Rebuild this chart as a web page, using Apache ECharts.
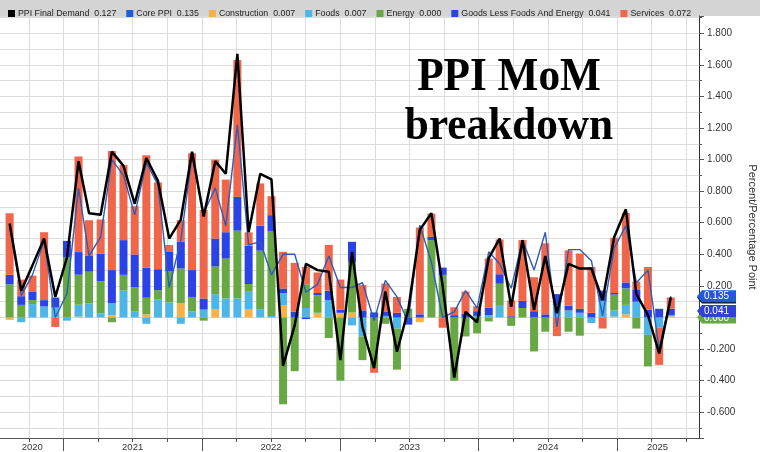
<!DOCTYPE html>
<html><head><meta charset="utf-8">
<script src="https://cdn.jsdelivr.net/npm/echarts@6/dist/echarts.min.js"></script>
<style>html,body{margin:0;padding:0;background:#fff}#c{width:760px;height:452px}</style>
</head><body><div id="c"></div>
<script>
// ---- data (month-end observations) ----
const months = [
 '2020-07','2020-08','2020-09','2020-10','2020-11','2020-12',
 '2021-01','2021-02','2021-03','2021-04','2021-05','2021-06','2021-07','2021-08','2021-09','2021-10','2021-11','2021-12',
 '2022-01','2022-02','2022-03','2022-04','2022-05','2022-06','2022-07','2022-08','2022-09','2022-10','2022-11','2022-12',
 '2023-01','2023-02','2023-03','2023-04','2023-05','2023-06','2023-07','2023-08','2023-09','2023-10','2023-11','2023-12',
 '2024-01','2024-02','2024-03','2024-04','2024-05','2024-06','2024-07','2024-08','2024-09','2024-10','2024-11','2024-12',
 '2025-01','2025-02','2025-03','2025-04','2025-05'
];
const ppiFinalDemand = [
 0.595,0.17,0.33,0.50,0.13,0.38,
 0.99,0.66,0.65,1.05,0.96,0.72,1.01,0.865,0.50,0.62,1.05,0.64,
 0.99,0.91,1.67,0.54,0.91,0.875,-0.306,-0.05,0.34,0.30,0.29,-0.27,
 0.415,-0.06,-0.32,0.165,-0.217,0.047,0.555,0.66,0.20,-0.38,0.036,-0.03,
 0.376,0.50,0.068,0.49,0.047,0.39,0.027,0.34,0.31,0.31,0.11,0.51,
 0.685,0.15,0.015,-0.228,0.127
];
const corePPI = [
 0.58,0.14,0.27,0.485,0.0,0.15,
 0.82,0.39,0.51,1.0,0.90,0.65,0.98,0.84,0.19,0.49,1.02,0.66,
 0.82,0.58,1.22,0.46,0.48,0.27,0.40,0.40,0.16,0.21,0.39,0.19,
 0.19,0.22,-0.02,0.235,0.13,-0.03,0.585,0.35,0.0,0.036,0.17,0.06,
 0.416,0.34,0.185,0.49,0.30,0.54,-0.06,0.43,0.43,0.36,0.01,0.44,
 0.58,0.22,0.30,-0.20,0.135
];
const construction = [
 -0.015,0,0,0,0,0,
 0.005,0,0,0.015,0,0,0.02,0,0,0.09,0,0,
 0.053,0,0,0.053,0,0,0.078,0,0,0.03,0,0.03,
 0.032,0,0,0,0,0,-0.03,0,0,0,0,0,
 0,0,0,0,0,0,0,0,0,0,0,0.005,
 0.02,0,0,0,0.007
];
const foods = [
 0,-0.03,0.085,0.07,0.063,-0.02,
 0.076,0.09,0.025,0.075,0.17,0.04,-0.04,0.116,0.095,-0.04,0.04,0.05,
 0.095,0.12,0.12,0.11,0.053,0.01,0.076,0,0.06,0,0.11,0,
 -0.05,-0.12,0,0.01,-0.07,0,0,0,0,0,0,0.01,
 0.015,0.074,0,0,0,0,0.078,0.045,0.03,-0.035,0.105,0.04,
 0.06,0.10,-0.11,-0.065,0.007
];
const energy = [
 0.21,0.08,0.025,0,0,0.38,
 0.19,0.20,0.205,-0.03,0.10,0.152,0.105,0.057,0.196,0.22,0.09,-0.02,
 0.175,0.253,0.43,0.049,0.37,0.538,-0.55,-0.34,0.15,0.11,-0.13,-0.40,
 0.32,-0.15,-0.32,-0.04,-0.26,0.055,0,0.49,0.27,-0.40,-0.12,-0.10,
 -0.025,0.14,-0.053,0.06,-0.215,-0.09,0,-0.09,-0.115,0,0,0.10,
 0.105,-0.07,-0.20,0,0
];
const goodsLessFoodsEnergy = [
 0.06,0.055,0.055,0.04,0.063,0.105,
 0.143,0.10,0.175,0.21,0.22,0.207,0.19,0.133,0.124,0.169,0.17,0.07,
 0.177,0.167,0.215,0.243,0.158,0.10,0.03,0.036,-0.01,0.015,0.06,0.02,
 0.127,0.045,0.032,0.025,0.03,-0.045,0.02,0.02,0.046,0.015,0.025,0.03,
 0.048,0.06,0.008,0.045,0.04,0.02,0.07,0.03,0.025,0.03,0.065,0.01,
 0.037,0.074,0.05,0.055,0.041
];
const services = [
 0.39,0.105,0.10,0.43,-0.06,0,
 0.605,0.226,0.215,0.755,0.475,0.306,0.713,0.548,0.044,0.137,0.74,0.56,
 0.50,0.333,0.865,0.084,0.268,0.12,0.232,0.31,0.11,0.13,0.29,0.19,
 0,0.16,-0.03,0.18,0.10,0,0.55,0.148,-0.065,0.05,0.14,0.03,
 0.31,0.22,0.10,0.385,0.215,0.45,-0.118,0.35,0.35,0.29,-0.07,0.35,
 0.44,0.053,0.27,-0.235,0.072
];
const yearLabels = ['2020','2021','2022','2023','2024','2025'];
const titleLines = ['PPI MoM','breakdown'];
const yAxisName = 'Percent/Percentage Point';

// ---- axis ranges (months since Jan 2020; percent) ----
const X_MIN = 6.5, X_MAX = 67.1;
const Y_MIN = -0.763, Y_MAX = 1.909;

// month-count -> timestamp (linear inside each month)
const DAY = 86400000;
const tOf = v => {
  const mi = Math.floor(v), f = v - mi;
  const y = 2020 + Math.floor(mi / 12), m = mi % 12;
  const a = Date.UTC(y, m, 1), b = Date.UTC(y, m + 1, 1);
  return a + f * (b - a);
};
const monthEndTime = s => { const [y, mo] = s.split('-').map(Number); return Date.UTC(y, mo, 1) - DAY / 2; };
const xy = arr => months.map((m, i) => [monthEndTime(m), arr[i]]);
const last = arr => arr[arr.length - 1];

// fine category grid for ticks / labels
const STEP = 0.1;
const N = Math.round((X_MAX - X_MIN) / STEP) + 1;
const fine = Array.from({length: N}, (_, k) => +(X_MIN + k * STEP).toFixed(1));
const isMult = (v, d) => Math.abs(v / d - Math.round(v / d)) < 1e-6;
const labelAt = {};
yearLabels.forEach(y => {
  const s = (Number(y) - 2020) * 12, e = s + 12;
  const c = (Math.max(s, X_MIN) + Math.min(e, X_MAX)) / 2;
  labelAt[Math.round((c - X_MIN) / STEP)] = y;
});

const C = {
  final: '#000000', core: '#2c5cb8', cons: '#f6b149', foods: '#4db6e6',
  energy: '#67a845', goods: '#2b43e6', services: '#f0664b'
};
const names = ['PPI Final Demand','Core PPI','Construction','Foods','Energy','Goods Less Foods And Energy','Services'];
const lastVals = {
  'PPI Final Demand': last(ppiFinalDemand), 'Core PPI': last(corePPI), 'Construction': last(construction),
  'Foods': last(foods), 'Energy': last(energy), 'Goods Less Foods And Energy': last(goodsLessFoodsEnergy),
  'Services': last(services)
};

function bar(name, arr, color) {
  return {type: 'bar', name, stack: 'ppi', xAxisIndex: 0, yAxisIndex: 0, barWidth: 8,
    data: xy(arr), itemStyle: {color}, emphasis: {disabled: true}, z: 2};
}

const chart = echarts.init(document.getElementById('c'), null, {renderer: 'canvas'});
chart.setOption({
  animation: false,
  textStyle: {fontFamily: 'Liberation Sans'},
  grid: {left: 0, right: 61, top: 16, bottom: 14, containLabel: false, outerBoundsMode: 'none'},
  legend: {
    data: names, left: 3, top: 4, itemWidth: 7, itemHeight: 7, itemGap: 10, icon: 'rect',
    selectedMode: false, z: 10,
    textStyle: {fontSize: 8.8, color: '#222', fontFamily: 'Liberation Sans', padding: [0,0,0,-2]},
    formatter: n => n + '  ' + lastVals[n].toFixed(3)
  },
  xAxis: [
    {type: 'time', min: tOf(X_MIN), max: tOf(X_MAX), show: false},
    {type: 'category', data: fine, boundaryGap: false, position: 'bottom',
      axisLine: {show: true, onZero: false, lineStyle: {color: '#555'}},
      axisTick: {show: true, length: 4, interval: i => isMult(fine[i], 3), lineStyle: {color: '#555'}},
      axisLabel: {show: false},
      splitLine: {show: true, interval: i => isMult(fine[i], 3), lineStyle: {color: '#dcdcdc'}}},
    {type: 'category', data: fine, boundaryGap: false, position: 'bottom',
      axisLine: {show: false, onZero: false},
      axisTick: {show: true, length: 13, interval: i => isMult(fine[i], 12), lineStyle: {color: '#555'}},
      axisLabel: {show: true, interval: i => labelAt[i] !== undefined, formatter: (v, i) => labelAt[i] || '',
        fontSize: 9.5, color: '#333', margin: 4},
      splitLine: {show: false}}
  ],
  yAxis: [
    {type: 'value', position: 'right', min: Y_MIN, max: Y_MAX, splitNumber: 26, minInterval: 0.1, maxInterval: 0.1,
      axisLine: {show: true, onZero: false, lineStyle: {color: '#333'}},
      axisTick: {show: true, length: 3, lineStyle: {color: '#555'}},
      axisLabel: {show: false},
      splitLine: {show: true, lineStyle: {color: '#dcdcdc'}}},
    {type: 'value', position: 'right', min: Y_MIN, max: Y_MAX, splitNumber: 13, minInterval: 0.2, maxInterval: 0.2,
      axisLine: {show: false, onZero: false},
      axisTick: {show: true, length: 5, lineStyle: {color: '#555'}},
      axisLabel: {show: true, fontSize: 10, color: '#333', margin: 8,
        formatter: v => isMult(v, 0.2) ? v.toFixed(3) : ''},
      splitLine: {show: false},
      name: yAxisName, nameLocation: 'middle', nameRotate: -90, nameGap: 44,
      nameTextStyle: {fontSize: 11, color: '#333'}}
  ],
  series: [
    bar('Construction', construction, C.cons),
    bar('Foods', foods, C.foods),
    bar('Energy', energy, C.energy),
    bar('Goods Less Foods And Energy', goodsLessFoodsEnergy, C.goods),
    bar('Services', services, C.services),
    {type: 'line', name: 'Core PPI', data: xy(corePPI), xAxisIndex: 0, yAxisIndex: 0, symbol: 'none', showSymbol: false,
      lineStyle: {color: C.core, width: 1.4}, itemStyle: {color: '#1f5fd6'}, z: 4, emphasis: {disabled: true}},
    {type: 'line', name: 'PPI Final Demand', data: xy(ppiFinalDemand), xAxisIndex: 0, yAxisIndex: 0, symbol: 'none', showSymbol: false,
      lineStyle: {color: C.final, width: 2.5}, itemStyle: {color: C.final}, z: 5, emphasis: {disabled: true}}
  ]
});

// decorations: legend band, title, last-value tags (tags placed through the library's y scale)
const titleStyle = {font: 'bold 46px "Liberation Serif"', textAlign: 'center', textVerticalAlign: 'middle',
  fill: '#000', shadowColor: 'rgba(0,0,0,0.4)', shadowBlur: 6, shadowOffsetX: 2, shadowOffsetY: 2};
const tags = [
  {v: last(energy), bg: '#67a845'},
  {v: last(goodsLessFoodsEnergy), bg: '#2f3fe0'},
  {v: last(ppiFinalDemand), bg: '#111111'},
  {v: last(corePPI), bg: '#1f5bd8'}
];
const axisX = chart.convertToPixel({xAxisIndex: 0}, tOf(X_MAX));
const graphicEls = [
  {id: 'band', type: 'rect', left: 0, top: 0, z: 0, shape: {width: 760, height: 16}, style: {fill: '#d4d4d4'}},
  {id: 't1', type: 'text', x: 509, y: 78, scaleX: 0.94, z: 20, style: Object.assign({text: titleLines[0]}, titleStyle)},
  {id: 't2', type: 'text', x: 509, y: 127, scaleX: 0.94, z: 20, style: Object.assign({text: titleLines[1]}, titleStyle)}
];
tags.forEach((t, i) => {
  const y = chart.convertToPixel({yAxisIndex: 0}, t.v);
  const x0 = axisX + 2, h = 6, w = 39;
  graphicEls.push({id: 'tagp' + i, type: 'polygon', z: 30 + i,
    shape: {points: [[x0, y], [x0 + 5, y - h], [x0 + w, y - h], [x0 + w, y + h], [x0 + 5, y + h]]},
    style: {fill: t.bg}});
  graphicEls.push({id: 'tagt' + i, type: 'text', z: 30 + i, x: x0 + 7, y: y + 0.5,
    style: {text: t.v.toFixed(3), fill: '#fff', font: '10px "Liberation Sans"', textVerticalAlign: 'middle', textAlign: 'left'}});
});
chart.setOption({graphic: graphicEls});
</script></body></html>
